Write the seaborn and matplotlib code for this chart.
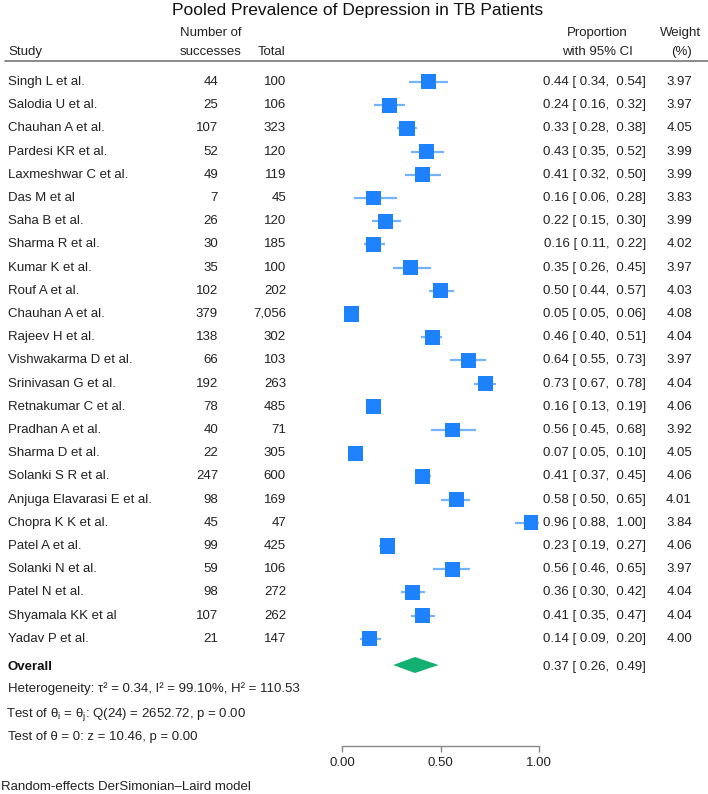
import matplotlib
matplotlib.use("Agg")
import matplotlib.pyplot as plt
import matplotlib.transforms as mtransforms
import seaborn as sns
import pandas as pd
import numpy as np

# ---------------- data ----------------
studies = ["Singh L et al.", "Salodia U et al.", "Chauhan A et al.", "Pardesi KR et al.",
           "Laxmeshwar C et al.", "Das M et al", "Saha B et al.", "Sharma R et al.",
           "Kumar K et al.", "Rouf A et al.", "Chauhan A et al.", "Rajeev H et al.",
           "Vishwakarma D et al.", "Srinivasan G et al.", "Retnakumar C et al.",
           "Pradhan A et al.", "Sharma D et al.", "Solanki S R et al.",
           "Anjuga Elavarasi E et al.", "Chopra K K et al.", "Patel A et al.",
           "Solanki N et al.", "Patel N et al.", "Shyamala KK et al", "Yadav P et al."]
successes = [44, 25, 107, 52, 49, 7, 26, 30, 35, 102, 379, 138, 66, 192, 78, 40, 22,
             247, 98, 45, 99, 59, 98, 107, 21]
totals = ["100", "106", "323", "120", "119", "45", "120", "185", "100", "202", "7,056",
          "302", "103", "263", "485", "71", "305", "600", "169", "47", "425", "106",
          "272", "262", "147"]
props = [0.44, 0.24, 0.33, 0.43, 0.41, 0.16, 0.22, 0.16, 0.35, 0.50, 0.05, 0.46, 0.64,
         0.73, 0.16, 0.56, 0.07, 0.41, 0.58, 0.96, 0.23, 0.56, 0.36, 0.41, 0.14]
lower = [0.34, 0.16, 0.28, 0.35, 0.32, 0.06, 0.15, 0.11, 0.26, 0.44, 0.05, 0.40, 0.55,
         0.67, 0.13, 0.45, 0.05, 0.37, 0.50, 0.88, 0.19, 0.46, 0.30, 0.35, 0.09]
upper = [0.54, 0.32, 0.38, 0.52, 0.50, 0.28, 0.30, 0.22, 0.45, 0.57, 0.06, 0.51, 0.73,
         0.78, 0.19, 0.68, 0.10, 0.45, 0.65, 1.00, 0.27, 0.65, 0.42, 0.47, 0.20]
weights = [3.97, 3.97, 4.05, 3.99, 3.99, 3.83, 3.99, 4.02, 3.97, 4.03, 4.08, 4.04, 3.97,
           4.04, 4.06, 3.92, 4.05, 4.06, 4.01, 3.84, 4.06, 3.97, 4.04, 4.04, 4.00]
overall = 0.37
overall_lo = 0.26
overall_hi = 0.49
title = "Pooled Prevalence of Depression in TB Patients"
het_lines = ["Heterogeneity: τ² = 0.34, I² = 99.10%, H² = 110.53",
             r"Test of θ$_\mathregular{i}$ = θ$_\mathregular{j}$: Q(24) = 2652.72, p = 0.00",
             "Test of θ = 0: z = 10.46, p = 0.00"]
footnote = "Random-effects DerSimonian–Laird model"
xticks = [0.0, 0.5, 1.0]
xticklabels = ["0.00", "0.50", "1.00"]

# ---------------- style ----------------
sns.set_theme(style="white")
plt.rcParams['font.family'] = ['Liberation Sans', 'DejaVu Sans']
plt.rcParams['mathtext.fontset'] = 'custom'
plt.rcParams['mathtext.rm'] = 'Liberation Sans'
plt.rcParams['mathtext.it'] = 'Liberation Sans:italic'

W, H = 708, 794
fig = plt.figure(figsize=(W / 100, H / 100), dpi=100)
fig.patch.set_facecolor("white")

ROW0, STEP = 82.0, 23.2          # pixel y of first row, row spacing
AX_TOP, AX_BOT = 61.0, 746.0
X0, X1 = 342.0, 539.0

def py(p):  # pixel y -> data row coordinate
    return (p - ROW0) / STEP

ax = fig.add_axes([X0 / W, 1 - AX_BOT / H, (X1 - X0) / W, (AX_BOT - AX_TOP) / H])
ax.set_xlim(0, 1)
ax.set_ylim(py(AX_BOT), py(AX_TOP))
ax.set_facecolor("none")

n = len(studies)
df = pd.DataFrame({"study": studies, "prop": props, "lo": lower, "hi": upper,
                   "weight": weights, "row": np.arange(n)})

blue = "#1E82FF"
lightblue = "#74B3FF"
green = "#12B071"

ax.hlines(df["row"], df["lo"], df["hi"], color=lightblue, lw=1.6, zorder=2)
base = 10.8 ** 2 / 3.97
wmin, wmax = min(weights), max(weights)
sns.scatterplot(data=df, x="prop", y="row", size="weight", sizes=(base * wmin, base * wmax),
                size_norm=(wmin, wmax), marker="s", color=blue, linewidth=0,
                legend=False, ax=ax, zorder=3)

y_ov = py(665)
hh = 8 / STEP
ax.fill([overall_lo, overall, overall_hi, overall], [y_ov, y_ov - hh, y_ov, y_ov + hh],
        color=green, lw=0, zorder=3)

# axis styling
for s in ["left", "top", "right"]:
    ax.spines[s].set_visible(False)
ax.spines["bottom"].set_color("#8a8a8a")
ax.spines["bottom"].set_linewidth(1.0)
ax.set_xticks(xticks)
ax.set_xticklabels(xticklabels)
ax.set_yticks([])
ax.set_xlabel("")
ax.set_ylabel("")
ax.tick_params(axis="x", direction="out", length=4, width=1.0, color="#8a8a8a",
               pad=4, labelsize=9.5, labelcolor="#222222", bottom=True)
ax.grid(False)

# ---------------- text ----------------
tr = mtransforms.blended_transform_factory(fig.transFigure, ax.transData)
FS = 9.5
tc = "#222222"

def fx(p):
    return p / W

def fy(p):
    return 1 - p / H

for i in range(n):
    ax.text(fx(8), i, studies[i], transform=tr, ha="left", va="center", fontsize=FS, color=tc)
    ax.text(fx(218), i, str(successes[i]), transform=tr, ha="right", va="center", fontsize=FS, color=tc)
    ax.text(fx(286), i, totals[i], transform=tr, ha="right", va="center", fontsize=FS, color=tc)
    ax.text(fx(646), i, f"{props[i]:.2f} [ {lower[i]:.2f},  {upper[i]:.2f}]", transform=tr,
            ha="right", va="center", fontsize=FS, color=tc)
    ax.text(fx(692), i, f"{weights[i]:.2f}", transform=tr, ha="right", va="center", fontsize=FS, color=tc)

ax.text(fx(8), py(667), "Overall", transform=tr, ha="left", va="center", fontsize=FS,
        fontweight="bold", color="#111111")
ax.text(fx(646), py(667), f"{overall:.2f} [ {overall_lo:.2f},  {overall_hi:.2f}]", transform=tr,
        ha="right", va="center", fontsize=FS, color=tc)
xs = [8, 6, 8]
ys = [689, 715, 737]
for line, p, x in zip(het_lines, ys, xs):
    ax.text(fx(x), py(p), line, transform=tr, ha="left", va="center", fontsize=FS, color=tc)

# header
fig.text(0.5 + 4 / W, fy(11), title, ha="center", va="center", fontsize=12.5, color="#111111")
fig.text(fx(8), fy(52), "Study", ha="left", va="center", fontsize=FS, color=tc)
fig.text(fx(242), fy(33), "Number of", ha="right", va="center", fontsize=FS, color=tc)
fig.text(fx(242), fy(52), "successes", ha="right", va="center", fontsize=FS, color=tc)
fig.text(fx(286), fy(52), "Total", ha="right", va="center", fontsize=FS, color=tc)
fig.text(fx(597), fy(33), "Proportion", ha="center", va="center", fontsize=FS, color=tc)
fig.text(fx(597), fy(52), "with 95% CI", ha="center", va="center", fontsize=FS, color=tc)
fig.text(fx(681), fy(33), "Weight", ha="center", va="center", fontsize=FS, color=tc)
fig.text(fx(682), fy(52), "(%)", ha="center", va="center", fontsize=FS, color=tc)
fig.add_artist(plt.Line2D([fx(5), fx(708)], [fy(61), fy(61)], transform=fig.transFigure,
                          color="#777777", lw=1.2))
fig.text(fx(1), fy(787), footnote, ha="left", va="center", fontsize=FS, color=tc)

fig.savefig("out.png", dpi=100, facecolor="white")
